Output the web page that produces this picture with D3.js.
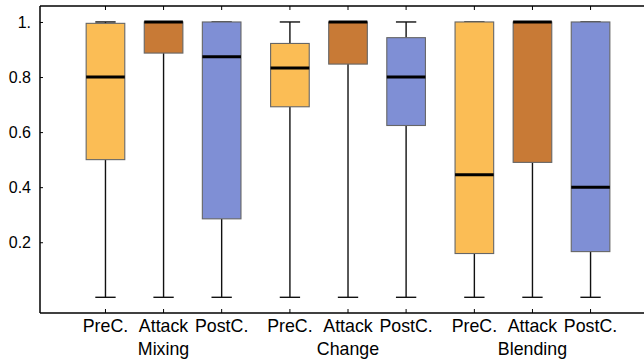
<!DOCTYPE html>
<html>
<head>
<meta charset="utf-8">
<script src="https://cdn.jsdelivr.net/npm/d3@7"></script>
<style>
  body { margin: 0; background: #fff; }
  svg text { font-family: "Liberation Sans", Arial, Helvetica, sans-serif; }
</style>
</head>
<body>
<div id="chart"></div>
<script>
// groups and series
var groups = ["Mixing", "Change", "Blending"];
var series = ["PreC.", "Attack", "PostC."];
var colors = ["#fbbd55", "#c87a36", "#7f8fd5"];

// box stats per group: [min, q1, median, q3, max], order = series
var mixing   = [[0, 0.50, 0.80, 0.995, 1], [0, 0.887, 1, 1, 1], [0, 0.285, 0.874, 1, 1]];
var change   = [[0, 0.692, 0.833, 0.922, 1], [0, 0.847, 1, 1, 1], [0, 0.624, 0.80, 0.943, 1]];
var blending = [[0, 0.159, 0.445, 1, 1], [0, 0.49, 1, 1, 1], [0, 0.166, 0.40, 1, 1]];
var stats = [mixing, change, blending];

var yTicks = [0.2, 0.4, 0.6, 0.8, 1];

var width = 644, height = 364;
var margin = { top: 6, right: 0, bottom: 51, left: 40 };
var font = "Liberation Sans, Arial, sans-serif";

var svg = d3.select("#chart").append("svg")
    .attr("width", width)
    .attr("height", height);

// position of box j in group g (group gap slightly wider)
function pos(g, j) { return g * 3.175 + j; }

var x = d3.scaleLinear()
    .domain([-1.127, 9.27])
    .range([margin.left, width - margin.right]);

var y = d3.scaleLinear()
    .domain([-0.057, 1.058])
    .range([height - margin.bottom, margin.top]);

var unit = x(1) - x(0);
var boxW = unit * 0.665;
var capW = unit * 0.35;

// flatten
var boxes = [];
stats.forEach(function (gs, g) {
    gs.forEach(function (s, j) {
        boxes.push({ g: g, j: j, min: s[0], q1: s[1], med: s[2], q3: s[3], max: s[4] });
    });
});

var b = svg.append("g").selectAll("g")
    .data(boxes)
    .enter()
    .append("g")
    .attr("transform", d => "translate(" + x(pos(d.g, d.j)) + ",0)");

// whiskers
b.append("line")
    .attr("y1", d => y(d.min)).attr("y2", d => y(d.q1))
    .attr("stroke", "#111").attr("stroke-width", 1.4);
b.append("line")
    .attr("y1", d => y(d.q3)).attr("y2", d => y(d.max))
    .attr("stroke", "#111").attr("stroke-width", 1.4);
b.append("line")
    .attr("x1", -capW / 2).attr("x2", capW / 2)
    .attr("y1", d => y(d.min)).attr("y2", d => y(d.min))
    .attr("stroke", "#111").attr("stroke-width", 1.4);
b.append("line")
    .attr("x1", -capW / 2).attr("x2", capW / 2)
    .attr("y1", d => y(d.max)).attr("y2", d => y(d.max))
    .attr("stroke", "#111").attr("stroke-width", 1.4);

// boxes
b.append("rect")
    .attr("x", -boxW / 2)
    .attr("width", boxW)
    .attr("y", d => y(d.q3))
    .attr("height", d => y(d.q1) - y(d.q3))
    .attr("fill", d => colors[d.j])
    .attr("stroke", "#666")
    .attr("stroke-width", 1.1);

// medians
b.append("line")
    .attr("x1", -boxW / 2).attr("x2", boxW / 2)
    .attr("y1", d => y(d.med)).attr("y2", d => y(d.med))
    .attr("stroke", "#000").attr("stroke-width", 3);

// frame
var x0 = x.range()[0], x1 = x.range()[1], yb = y.range()[0], yt = y.range()[1];
svg.append("line").attr("x1", x0).attr("x2", x1).attr("y1", yb).attr("y2", yb)
    .attr("stroke", "#000").attr("stroke-width", 1.5);
svg.append("line").attr("x1", x0).attr("x2", x1).attr("y1", yt).attr("y2", yt)
    .attr("stroke", "#000").attr("stroke-width", 1.5);
svg.append("line").attr("x1", x0).attr("x2", x0).attr("y1", yt).attr("y2", yb)
    .attr("stroke", "#000").attr("stroke-width", 1.5);

// y axis (ticks inward)
var yAxis = d3.axisLeft(y)
    .tickValues(yTicks)
    .tickSizeInner(-3)
    .tickSizeOuter(0)
    .tickPadding(9)
    .tickFormat(d => d === 1 ? "1." : d3.format(".1f")(d));
var ya = svg.append("g")
    .attr("transform", "translate(" + x0 + ",0)")
    .attr("font-family", font)
    .call(yAxis);
ya.select(".domain").remove();
ya.selectAll("text")
    .attr("fill", "#000")
    .style("font-family", font)
    .style("font-size", "16px");

// x ticks top and bottom, inward
var xPos = boxes.map(d => pos(d.g, d.j));
svg.append("g").selectAll("line.tt")
    .data(xPos).enter().append("line")
    .attr("x1", d => x(d)).attr("x2", d => x(d))
    .attr("y1", yt).attr("y2", yt + 4)
    .attr("stroke", "#000").attr("stroke-width", 1);
svg.append("g").selectAll("line.tb")
    .data(xPos).enter().append("line")
    .attr("x1", d => x(d)).attr("x2", d => x(d))
    .attr("y1", yb).attr("y2", yb - 4)
    .attr("stroke", "#000").attr("stroke-width", 1);

// series labels
svg.append("g").selectAll("text")
    .data(boxes).enter().append("text")
    .attr("x", d => x(pos(d.g, d.j)))
    .attr("y", 332)
    .attr("text-anchor", "middle")
    .style("font-family", font)
    .style("font-size", "17.8px")
    .text(d => series[d.j]);

// group labels
svg.append("g").selectAll("text")
    .data(groups).enter().append("text")
    .attr("x", (d, g) => x(pos(g, 1)))
    .attr("y", 355)
    .attr("text-anchor", "middle")
    .style("font-family", font)
    .style("font-size", "17.8px")
    .text(d => d);
</script>
</body>
</html>
